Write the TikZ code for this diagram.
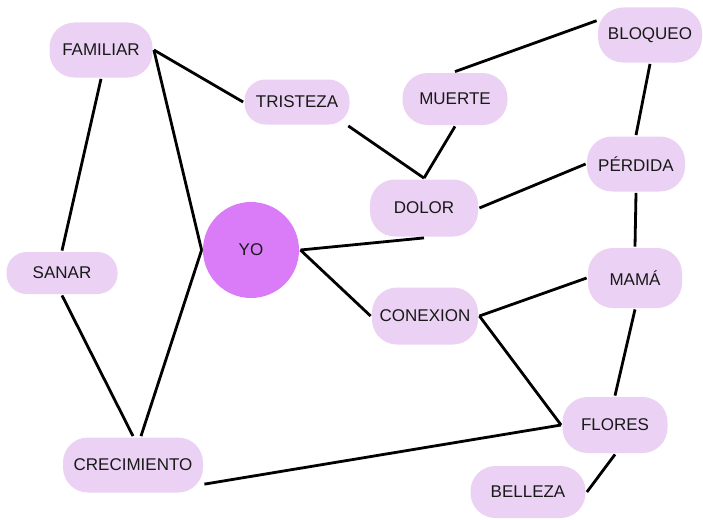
\documentclass[tikz,border=0pt]{standalone}
\usepackage{fontspec}
\setmainfont{Liberation Sans}
\usepackage{tikz}
\usetikzlibrary{positioning,shapes}

\definecolor{lila}{HTML}{EBD2F4}
\definecolor{violeta}{HTML}{DA7CF7}

\begin{document}
\begin{tikzpicture}[x=1pt,y=-1pt,-,line width=2.8pt,
                    font=\fontsize{17}{20}\selectfont,text=black!90]
	  \tikzstyle{concept}=[rectangle,rounded corners=25pt,fill=lila,draw=none,
	                       inner sep=0pt,minimum height=55pt]
	  \tikzstyle{center}=[circle,fill=violeta,draw=none,minimum size=96pt]

	  \useasboundingbox (0,0) rectangle (703,519);

	  \node[concept,minimum width=103pt]                  (FA) at (101,50)  {FAMILIAR};
	  \node[concept,minimum width=105pt,minimum height=45pt,rounded corners=21pt] (TR) at (297,102) {TRISTEZA};
	  \node[concept,minimum width=105pt,minimum height=52pt] (MU) at (455,99)  {MUERTE};
	  \node[concept,minimum width=104pt]                  (BL) at (650,35)  {BLOQUEO};
	  \node[concept,minimum width=98pt]                   (PE) at (636,164) {PÉRDIDA};
	  \node[concept,minimum width=108pt,minimum height=57pt] (DO) at (424,208) {DOLOR};
	  \node[center]                                       (YO) at (251,250) {YO};
	  \node[concept,minimum width=111pt,minimum height=42pt,rounded corners=20pt] (SA) at (62,273)  {SANAR};
	  \node[concept,minimum width=106pt,minimum height=57pt] (CO) at (425,316) {CONEXION};
	  \node[concept,minimum width=94pt,minimum height=60pt]  (MA) at (635,278) {MAMÁ};
	  \node[concept,minimum width=105pt,minimum height=56pt] (FL) at (615,425) {FLORES};
	  \node[concept,minimum width=140pt]                  (CR) at (133,465) {CRECIMIENTO};
	  \node[concept,minimum width=115pt,minimum height=52pt] (BE) at (528,492) {BELLEZA};

	  \path (FA.east)  edge (TR.west)
	                   edge (YO.west)
	        (FA.south) edge (SA.north)
	        (YO.west)  edge ([xshift=8pt]CR.north)
	        (SA.south) edge (CR.north)
	        (TR.-25)   edge (DO.north)
	        (MU.south) edge (DO.north)
	        (MU.north) edge (BL.165)
	        (BL.south) edge (PE.north)
	        (PE.west)  edge (DO.east)
	        (YO.east)  edge (DO.south)
	                   edge (CO.west)
	        (PE.south) edge (MA.north)
	        (CO.east)  edge (MA.west)
	                   edge (FL.west)
	        (MA.south) edge (FL.north)
	        (CR.-15)   edge (FL.west)
	        (FL.south) edge (BE.east);
	\end{tikzpicture}
\end{document}
